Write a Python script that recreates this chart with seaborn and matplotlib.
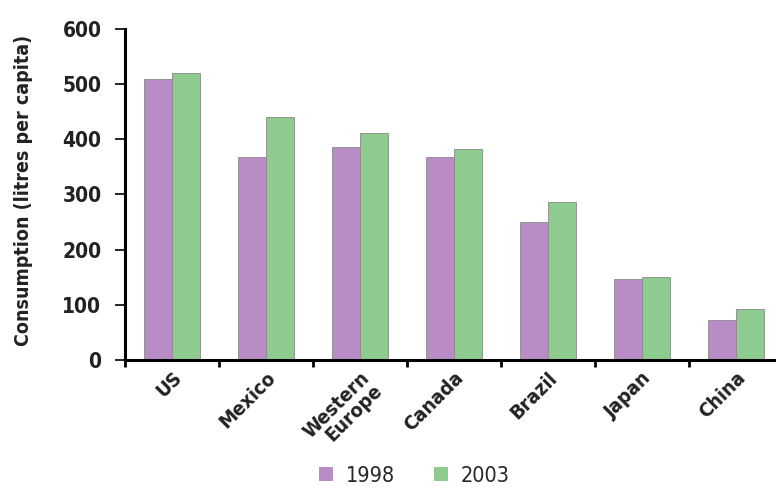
import matplotlib
matplotlib.use("Agg")
import matplotlib.pyplot as plt
import seaborn as sns
import pandas as pd
from matplotlib.ticker import FixedLocator

categories = ["US", "Mexico", "Western\nEurope", "Canada", "Brazil", "Japan", "China"]
years = ["1998", "2003"]
values_1998 = [510, 368, 386, 368, 251, 146, 73]
values_2003 = [520, 440, 412, 383, 286, 150, 93]
yticks = [0, 100, 200, 300, 400, 500, 600]

sns.set_theme(style="white")
plt.rcParams['font.family'] = ['DejaVu Sans']
plt.rcParams['font.stretch'] = 'condensed'

df = pd.DataFrame({
    "country": categories * 2,
    "year": [years[0]] * len(categories) + [years[1]] * len(categories),
    "value": values_1998 + values_2003,
})

fig = plt.figure(figsize=(7.76, 4.91), dpi=100)
ax = fig.add_axes([125 / 776, 1 - 360 / 491, (783 - 125) / 776, (360 - 29) / 491])

palette = {"1998": "#BA8CC6", "2003": "#8DCC8E"}
sns.barplot(data=df, x="country", y="value", hue="year", palette=palette,
            width=0.6, gap=0, edgecolor="#8a8a8a", linewidth=0.6,
            saturation=1, ax=ax, legend=True)

ax.set_xlim(-0.5, len(categories) - 0.5)
ax.set_ylim(0, 600)
ax.set_yticks(yticks)
ax.set_yticklabels([str(v) for v in yticks], fontsize=15, fontweight="bold", color="#222222")

ax.set_xticks(range(len(categories)))
ax.set_xticklabels(categories, rotation=45, ha="right", rotation_mode="anchor",
                   fontsize=14.5, fontweight="bold", color="#222222", linespacing=0.9)
ax.tick_params(axis="x", which="major", length=0, pad=6)
ax.xaxis.set_minor_locator(FixedLocator([i - 0.5 for i in range(len(categories) + 1)]))
ax.tick_params(axis="x", which="minor", length=5, width=2, color="black", direction="out", bottom=True)
ax.tick_params(axis="y", length=7, width=1.2, color="black", direction="out", left=True, pad=10)

for side in ["top", "right"]:
    ax.spines[side].set_visible(False)
for side in ["left", "bottom"]:
    ax.spines[side].set_color("black")
    ax.spines[side].set_linewidth(2.2)

ax.set_xlabel("")
ax.set_ylabel("Consumption (litres per capita)", fontsize=14, fontweight="bold",
              color="#222222")
ax.yaxis.set_label_coords((33 - 125) / 658, (360 - 190) / 331)

leg = ax.legend(loc="center", bbox_to_anchor=(0.44, -0.35),
                ncol=2, frameon=False, fontsize=15.5, handlelength=0.65, handleheight=0.65,
                columnspacing=1.8, handletextpad=0.6, title=None)
for h in leg.legend_handles:
    h.set_edgecolor("none")

fig.savefig("out.png", dpi=100, facecolor="white")
